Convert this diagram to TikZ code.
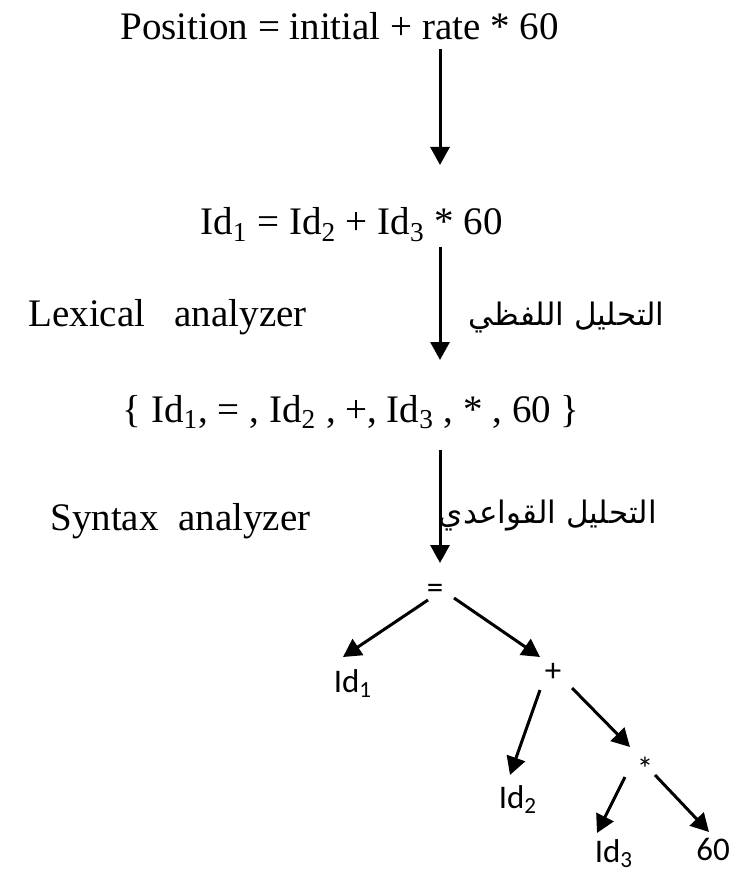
\documentclass[tikz,border=0pt]{standalone}
\usepackage{fontspec}
\setmainfont{Liberation Serif}
\newfontfamily\arabicfont[Script=Arabic]{DejaVu Sans}
\newfontfamily\treefont{Carlito}
\TeXXeTstate=1
\usetikzlibrary{arrows.meta}

\begin{document}
\begin{tikzpicture}[x=0.5pt, y=-0.5pt,
    serif/.style={inner sep=0pt, font=\fontsize{19.5}{23}\selectfont},
    phase/.style={inner sep=0pt, font=\fontsize{15.5}{19}\selectfont\arabicfont},
    leaf/.style={inner sep=0pt, font=\fontsize{16.5}{20}\selectfont\treefont},
    flow/.style={-{Triangle[length=9pt, width=9.5pt]}, line width=1.5pt},
  ]
  \useasboundingbox (0,0) rectangle (732,871);
  \coordinate (ax) at (440,0);

  % Statement and its translations
  \node[serif, anchor=base west] (src) at (120,40)
    {Position = initial + rate * 60};
  \node[serif, anchor=base west] (ids) at (200,235)
    {Id\textsubscript{1} = Id\textsubscript{2} + Id\textsubscript{3} * 60};
  \node[serif, anchor=base east] (tokens) at (580,422)
    {\{ Id\textsubscript{1}, = , Id\textsubscript{2} , +, Id\textsubscript{3} , * , 60 \}};

  % Phase names, English left and Arabic right
  \node[serif, anchor=base west] (lexen) at (28,327) {Lexical~~~analyzer};
  \node[phase, anchor=base east] (lexar) at (665,325) {\beginR التحليل اللفظي\endR};
  \node[serif, anchor=base west] (synen) at (50,530) {Syntax~~analyzer};
  \node[phase, anchor=base east] (synar) at (657,523) {\beginR التحليل القواعدي\endR};

  % Syntax tree
  \node[leaf, anchor=base] (eq) at (435,598) {=};
  \node[leaf, anchor=base] (id1) at (353,692) {Id\textsubscript{1}};
  \node[leaf, anchor=base] (plus) at (553,681) {+};
  \node[leaf, anchor=base] (id2) at (518,808) {Id\textsubscript{2}};
  \node[leaf, anchor=base] (star) at (645,780) {*};
  \node[leaf, anchor=base] (id3) at (614,862) {Id\textsubscript{3}};
  \node[leaf, anchor=base] (sixty) at (713,860) {60};

  % Downward steps
  \draw[flow, shorten <=4.5pt, shorten >=35pt] (src.base -| ax) -- (ids.base -| ax);
  \draw[flow, shorten <=6pt, shorten >=31pt] (ids.base -| ax) -- (tokens.base -| ax);
  \draw[flow, shorten <=14pt, shorten >=17.5pt] (tokens.base -| ax) -- (eq.base -| ax);

  % Tree edges
  \draw[flow] ([shift={(-7,2)}]eq.base) -- ([shift={(-10,-35)}]id1.base);
  \draw[flow] ([shift={(19,0)}]eq.base) -- ([shift={(-13,-24)}]plus.base);
  \draw[flow] ([shift={(-13,9)}]plus.base) -- ([shift={(-8,-33)}]id2.base);
  \draw[flow] ([shift={(19,7)}]plus.base) -- ([shift={(-15,-33)}]star.base);
  \draw[flow] ([shift={(-20,-3)}]star.base) -- ([shift={(-17,-29)}]id3.base);
  \draw[flow] ([shift={(10,-5)}]star.base) -- ([shift={(-4,-28)}]sixty.base);
\end{tikzpicture}
\end{document}
